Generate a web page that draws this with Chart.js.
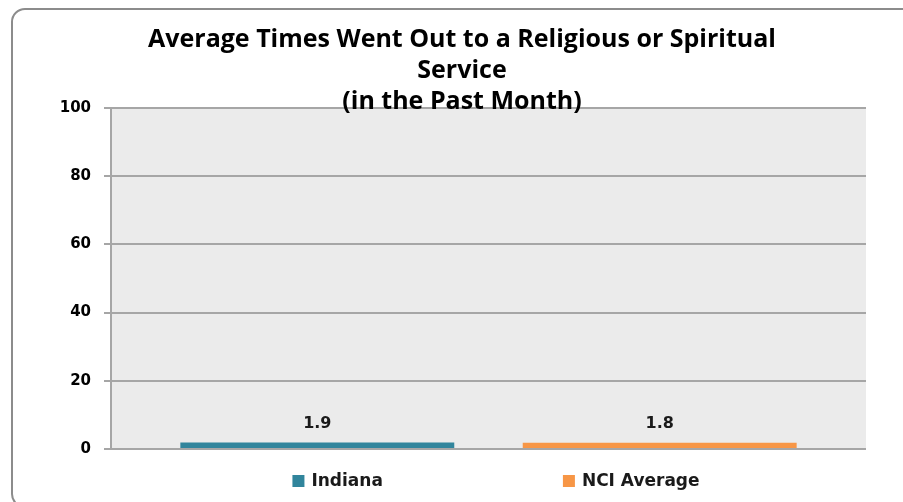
<!DOCTYPE html>
<html>
<head>
<meta charset="utf-8">
<script src="https://cdn.jsdelivr.net/npm/chart.js"></script>
<style>
  body { margin: 0; background: #ffffff; }
  .wrap { position: relative; width: 903px; height: 502px; overflow: hidden; }
  .frame { position: absolute; left: 11px; top: 8px; width: 910px; height: 500px; border: 2px solid #8c8c8c; border-radius: 14px; box-sizing: border-box; }
  canvas { position: absolute; left: 0; top: 0; }
</style>
</head>
<body>
<div class="wrap">
  <div class="frame"></div>
  <canvas id="chart" width="903" height="502"></canvas>
</div>
<script>
const categories = [''];
const seriesNames = ['Indiana', 'NCI Average'];
const indianaValues = [1.9];
const nciValues = [1.8];
const yTicks = [0, 20, 40, 60, 80, 100];
const titleLines = ['Average Times Went Out to a Religious or Spiritual', 'Service', '(in the Past Month)'];

const seriesColors = ['#31859c', '#f79646'];
const labelFont = 'bold 16px "DejaVu Sans", Verdana, sans-serif';
const legendFont = 'bold 17px "DejaVu Sans", Verdana, sans-serif';

// grey plot background
const plotBg = {
  id: 'plotBg',
  beforeDraw(chart) {
    const a = chart.chartArea, ctx = chart.ctx;
    ctx.save();
    ctx.fillStyle = '#ebebeb';
    ctx.fillRect(a.left, a.top, a.right - a.left, a.bottom - a.top);
    ctx.restore();
  }
};

// value labels above the bars
const valueLabels = {
  id: 'valueLabels',
  afterDatasetsDraw(chart) {
    const ctx = chart.ctx;
    ctx.save();
    ctx.font = labelFont;
    ctx.fillStyle = '#1a1a1a';
    ctx.textAlign = 'center';
    ctx.textBaseline = 'middle';
    chart.data.datasets.forEach((ds, i) => {
      chart.getDatasetMeta(i).data.forEach((bar, j) => {
        ctx.fillText(ds.data[j].toFixed(1), bar.x, bar.y - 19);
      });
    });
    ctx.restore();
  }
};

// bottom legend with wide spacing between items
const wideLegend = {
  id: 'wideLegend',
  afterDraw(chart) {
    const ctx = chart.ctx;
    const box = 12, gap = 180, center = 496, y = 481;
    ctx.save();
    ctx.font = legendFont;
    ctx.textBaseline = 'middle';
    const widths = chart.data.datasets.map(ds => box + 7 + ctx.measureText(ds.label).width);
    const total = widths.reduce((a, b) => a + b, 0) + gap * (widths.length - 1);
    let x = center - total / 2;
    chart.data.datasets.forEach((ds, i) => {
      ctx.fillStyle = ds.backgroundColor;
      ctx.fillRect(x, y - box / 2, box, box);
      ctx.fillStyle = '#1a1a1a';
      ctx.fillText(ds.label, x + box + 7, y + 1);
      x += widths[i] + gap;
    });
    ctx.restore();
  }
};

new Chart(document.getElementById('chart'), {
  type: 'bar',
  data: {
    labels: categories,
    datasets: [
      { label: seriesNames[0], data: indianaValues, backgroundColor: seriesColors[0] },
      { label: seriesNames[1], data: nciValues, backgroundColor: seriesColors[1] }
    ]
  },
  options: {
    responsive: false,
    animation: false,
    categoryPercentage: 0.907,
    barPercentage: 0.8,
    layout: { padding: { left: 58, right: 37, top: 0, bottom: 53 } },
    plugins: {
      legend: { display: false },
      tooltip: { enabled: false },
      title: {
        display: true,
        text: titleLines,
        color: '#000000',
        font: { family: '"Open Sans"', size: 25, weight: 'bold', lineHeight: 1.25 },
        padding: { top: 24, bottom: -10 }
      }
    },
    scales: {
      x: { display: false },
      y: {
        min: 0,
        max: 100,
        afterFit(s) { s.width = 53; },
        afterBuildTicks(s) { s.ticks = yTicks.map(v => ({ value: v })); },
        border: { display: true, color: '#a6a6a6', width: 2 },
        grid: { color: '#a6a6a6', lineWidth: 2, tickLength: 7, drawTicks: true },
        ticks: {
          padding: 13,
          color: '#000000',
          font: { family: '"DejaVu Sans", Verdana, sans-serif', size: 15, weight: 'bold' }
        }
      }
    }
  },
  plugins: [plotBg, valueLabels, wideLegend]
});
</script>
</body>
</html>
